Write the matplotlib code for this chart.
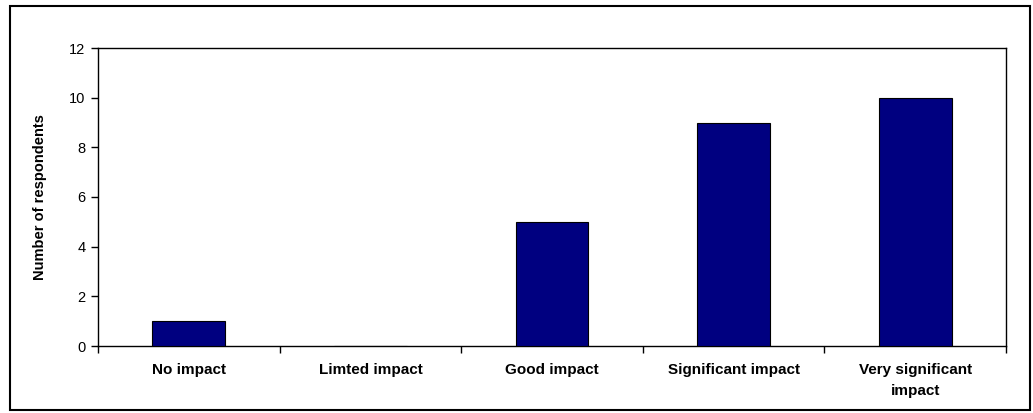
import matplotlib
matplotlib.use("Agg")
import matplotlib.pyplot as plt
from matplotlib.patches import Rectangle

categories = ["No impact", "Limted impact", "Good impact", "Significant impact", "Very significant\nimpact"]
respondents = [1, 0, 5, 9, 10]
y_ticks = [0, 2, 4, 6, 8, 10, 12]

plt.rcParams["font.family"] = ["Liberation Sans", "DejaVu Sans"]

W, H = 1033, 413
fig = plt.figure(figsize=(W / 100, H / 100), dpi=100)
ax = fig.add_axes([98 / W, 1 - 346 / H, (1006 - 98) / W, (346 - 48) / H])

x = list(range(len(categories)))
ax.bar(x, respondents, width=0.4, color="#000080", edgecolor="black", linewidth=0.8, zorder=3)

ax.set_xlim(-0.5, len(categories) - 0.5)
ax.set_ylim(0, 12)
ax.set_yticks(y_ticks)
ax.tick_params(axis="y", direction="out", length=5, width=1, labelsize=10.5, pad=4)

# category ticks sit on the boundaries between groups
ax.set_xticks([i - 0.5 for i in range(len(categories) + 1)])
ax.set_xticklabels([])
ax.set_xticks(x, minor=True)
ax.set_xticklabels(categories, minor=True, fontsize=11, fontweight="bold", va="top",
                   linespacing=1.7)
ax.tick_params(axis="x", which="major", direction="out", length=5, width=1)
ax.tick_params(axis="x", which="minor", length=0, pad=12)

for s in ax.spines.values():
    s.set_linewidth(1)
    s.set_color("black")

ax.set_ylabel("Number of respondents", fontsize=10.5, fontweight="bold", labelpad=16)

fig.patches.append(Rectangle((10 / W, 1 - 410 / H), (1030 - 10) / W, (410 - 6) / H,
                             transform=fig.transFigure, fill=False, edgecolor="black",
                             linewidth=1.5))

fig.savefig("out.png", dpi=100)
